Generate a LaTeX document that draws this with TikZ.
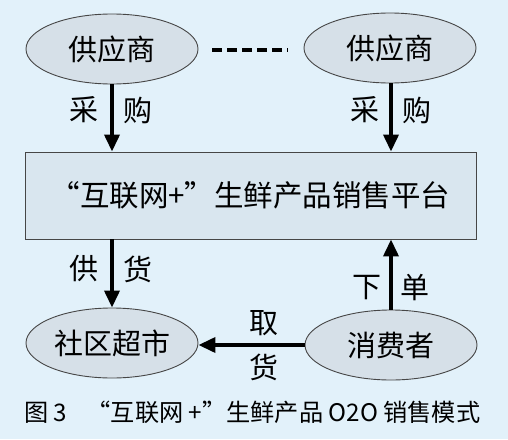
\documentclass[tikz,border=0pt]{standalone}
\usepackage{fontspec}
\setmainfont{Noto Sans CJK SC}
\usetikzlibrary{shapes.geometric,arrows.meta}
\definecolor{bgblue}{RGB}{226,241,250}
\definecolor{ellfill}{RGB}{214,224,232}
\definecolor{rectfill}{RGB}{217,230,239}
\definecolor{edgegray}{RGB}{70,70,70}
\begin{document}
\begin{tikzpicture}[x=1pt,y=-1pt,
  ell/.style={ellipse,draw=edgegray,line width=0.9pt,fill=ellfill,minimum width=172pt,minimum height=70pt,inner sep=0pt,font=\fontsize{29}{29}\selectfont},
  flow/.style={line width=3.6pt,-{Triangle[length=17pt,width=15pt]}},
  lab/.style={font=\fontsize{29}{29}\selectfont,inner sep=0pt}]
\fill[bgblue] (0,0) rectangle (508,439);
\useasboundingbox (0,0) rectangle (508,439);
\node[ell] (s1) at (112,49) {供应商};
\node[ell] (s2) at (390,48) {供应商};
\node[draw=edgegray,line width=0.9pt,fill=rectfill,minimum width=451pt,minimum height=87pt,inner sep=0pt,font=\fontsize{29.5}{29.5}\selectfont] (p) at (250.5,195.5) {“互联网+”生鲜产品销售平台};
\node[ell] (m) at (112,343) {社区超市};
\node[ell] (c) at (391,345) {消费者};
\coordinate (d1) at (212,50);
\coordinate (d2) at (288,50);
\draw[line width=3.8pt,dash pattern=on 10pt off 5pt] (d1) -- (d2);
\draw[flow] (s1.south) -- (s1.south |- p.north);
\draw[flow] (s2.south -| 391,0) -- (p.north -| 391,0);
\draw[flow] (p.south -| m.north) -- (m.north);
\draw[flow] (c.north) -- (c.north |- p.south);
\draw[flow] (c.west) -- (m.east |- c.west);
\node[lab] (l1) at (84,110) {采};
\node[lab] (l2) at (138,110) {购};
\node[lab] (l3) at (365,110) {采};
\node[lab] (l4) at (417,110) {购};
\node[lab] (l5) at (84,269) {供};
\node[lab] (l6) at (138,269) {货};
\node[lab] (l7) at (367,288) {下};
\node[lab] (l8) at (415,288) {单};
\node[lab] (l9) at (264,323) {取};
\node[lab] (l10) at (264,367) {货};
\node[anchor=west,inner sep=0pt,font=\fontsize{24.2}{24.2}\selectfont] (cap) at (24,412) {图 3\hspace{0.8em}“互联网 +”生鲜产品 O2O 销售模式};
\end{tikzpicture}
\end{document}
